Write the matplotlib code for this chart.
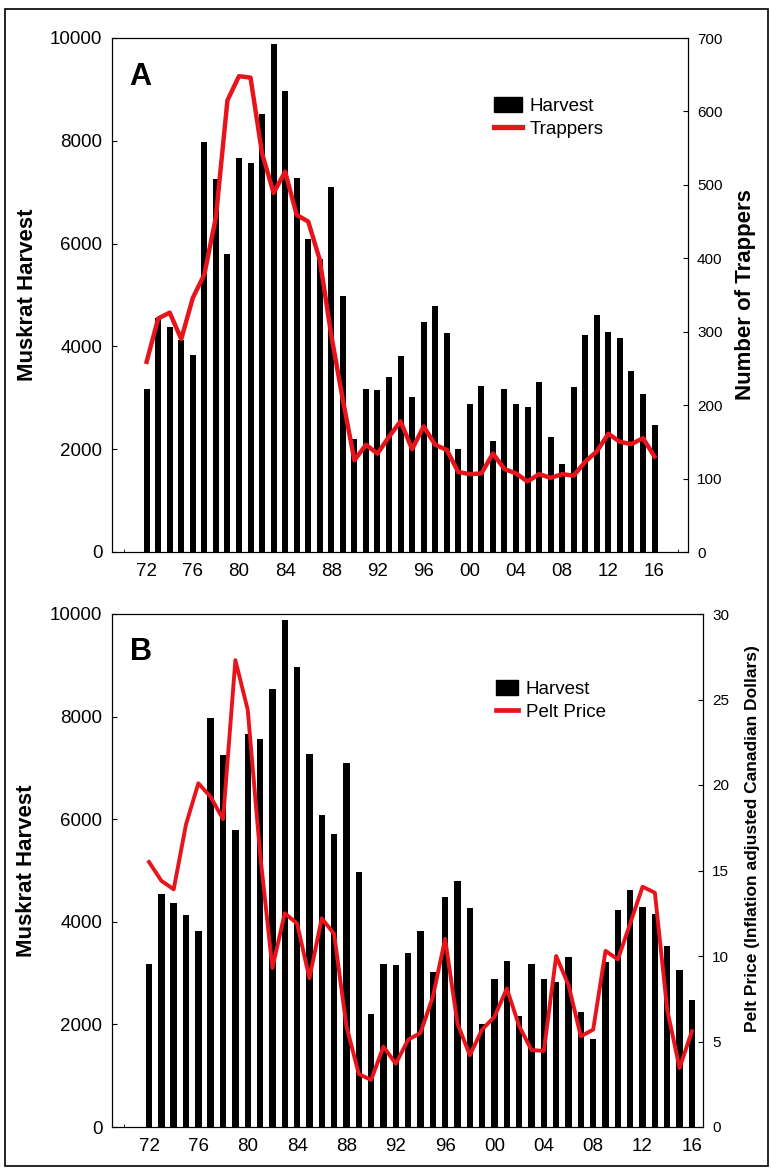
import matplotlib
matplotlib.use("Agg")
import matplotlib.pyplot as plt
from matplotlib.patches import Rectangle, Patch
from matplotlib.lines import Line2D

plt.rcParams['font.family'] = ['Liberation Sans', 'DejaVu Sans']

years = list(range(1972, 2017))
harvest = [3180, 4550, 4370, 4130, 3830, 7980, 7260, 5790, 7660, 7570,
           8530, 9890, 8970, 7270, 6090, 5710, 7100, 4980, 2200, 3180,
           3150, 3400, 3820, 3020, 4480, 4790, 4270, 2000, 2880, 3230,
           2160, 3180, 2880, 2820, 3310, 2240, 1720, 3210, 4230, 4620,
           4280, 4160, 3530, 3070, 2480]
trappers = [259, 318, 326, 290, 346, 378, 456, 615, 648, 646,
            543, 489, 518, 459, 450, 398, 295, 207, 125, 146,
            134, 157, 178, 140, 171, 146, 139, 109, 106, 107,
            134, 113, 107, 96, 106, 101, 106, 104, 123, 137,
            161, 150, 147, 155, 130]
pelt_price = [15.5, 14.4, 13.9, 17.7, 20.1, 19.3, 18.0, 27.3, 24.4, 16.0,
              9.3, 12.5, 11.9, 8.7, 12.2, 11.3, 5.9, 3.1, 2.75, 4.7,
              3.7, 5.1, 5.5, 7.6, 11.0, 6.05, 4.2, 5.7, 6.45, 8.1,
              5.9, 4.5, 4.45, 10.0, 8.3, 5.3, 5.7, 10.3, 9.8, 11.9,
              14.05, 13.7, 6.85, 3.45, 5.6]

tick_years = list(range(1972, 2017, 4))
tick_labels = ['%02d' % (y % 100) for y in tick_years]

fig = plt.figure(figsize=(7.71, 11.69), dpi=100)
fig.patches.append(Rectangle((5 / 771, 3 / 1169), 763 / 771, 1157 / 1169,
                             transform=fig.transFigure, fill=False,
                             edgecolor='black', linewidth=1.2))


def panel(rect, xmax, series, ymax2, yticks2, label2, label2_size, label2_xy,
          letter, leg_name, leg_loc, lw, hlen):
    ax = fig.add_axes(rect)
    ax.bar(years, harvest, width=0.52, color='black', zorder=2)
    ax.set_xlim(1969, xmax)
    ax.set_ylim(0, 10000)
    ax.set_yticks(range(0, 10001, 2000))
    ax.set_xticks(tick_years)
    ax.set_xticklabels(tick_labels)
    ax.set_xticks(range(1970, int(xmax) + 1, 2), minor=True)
    ax.tick_params(axis='both', which='both', direction='in', labelsize=13.5)
    ax.tick_params(axis='x', which='both', pad=8)
    ax.tick_params(axis='y', pad=7)
    ax.set_ylabel('Muskrat Harvest', fontsize=16, fontweight='bold', va='center')
    ax.yaxis.set_label_coords((27 - 112) / (rect[2] * 771), 0.5)
    ax.text(0.03, 0.925, letter, transform=ax.transAxes, fontsize=22,
            fontweight='bold', va='center')

    ax2 = ax.twinx()
    ax2.plot(years, series, color='#e8141c', linewidth=lw, zorder=3)
    ax2.set_ylim(0, ymax2)
    ax2.set_yticks(yticks2)
    ax2.tick_params(axis='y', direction='in', labelsize=11, pad=6.5)
    ax2.set_ylabel(label2, fontsize=label2_size, fontweight='bold', va='center')
    ax2.yaxis.set_label_coords((label2_xy[0] - 112) / (rect[2] * 771), label2_xy[1])

    handles = [Patch(facecolor='black', edgecolor='black'),
               Line2D([0], [0], color='#e8141c', linewidth=lw + 0.6)]
    ax2.legend(handles, ['Harvest', leg_name], loc='upper left',
               bbox_to_anchor=leg_loc, frameon=False, fontsize=13.5,
               handlelength=hlen, handleheight=0.85, handletextpad=0.4,
               labelspacing=0.25, borderaxespad=0)
    return ax, ax2


panel([112 / 771, (1169 - 552) / 1169, 576 / 771, 514 / 1169], 2018.9,
      trappers, 700, range(0, 701, 100), 'Number of Trappers', 16, (745, 0.5),
      'A', 'Trappers', (0.65, 0.9), 3.2, 1.5)
panel([112 / 771, (1169 - 1127) / 1169, 591 / 771, 513 / 1169], 2016.9,
      pelt_price, 30, range(0, 31, 5),
      'Pelt Price (Inflation adjusted Canadian Dollars)', 12.5, (752, 0.563),
      'B', 'Pelt Price', (0.637, 0.885), 2.8, 1.2)

fig.savefig('out.png', dpi=100)
